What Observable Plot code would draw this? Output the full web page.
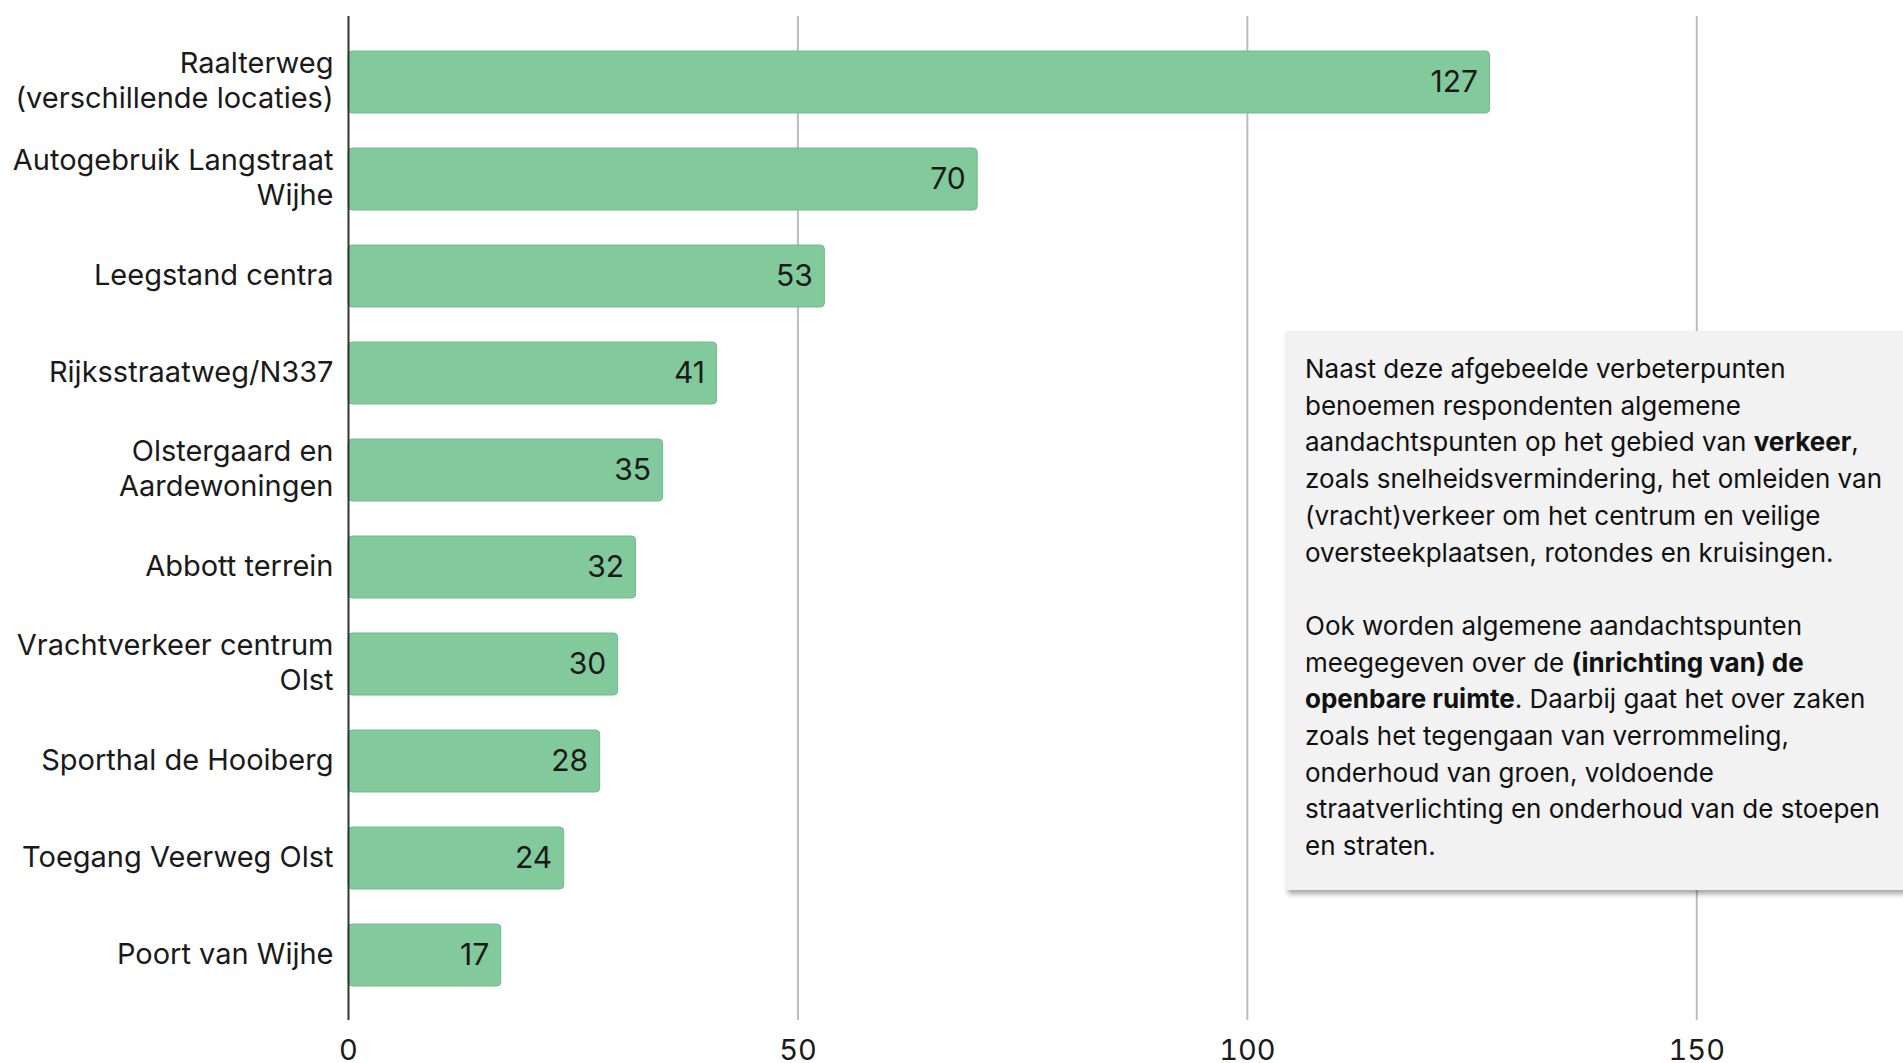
<!DOCTYPE html>
<html>
<head>
<meta charset="utf-8">
<script src="https://cdn.jsdelivr.net/npm/d3@7"></script>
<script src="https://cdn.jsdelivr.net/npm/@observablehq/plot@0.6"></script>
<style>
  html, body { margin: 0; padding: 0; background: #fff; overflow: hidden; width: 1903px; height: 1063px; }
  #chart { position: absolute; left: 0; top: 0; }
  #note {
    position: absolute; left: 1285px; top: 331px; width: 640px; height: 559px;
    box-sizing: border-box; padding: 20px 0 0 20px;
    background: #f2f2f2; box-shadow: 3px 4px 5px rgba(0,0,0,0.35);
    font-family: Inter, sans-serif; font-size: 26px; line-height: 36.7px; color: #111;
  }
  #note b { font-weight: 700; }
</style>
</head>
<body>
<div id="chart"></div>
<div id="note">Naast deze afgebeelde verbeterpunten<br>benoemen respondenten algemene<br>aandachtspunten op het gebied van <b>verkeer</b>,<br>zoals snelheidsvermindering, het omleiden van<br>(vracht)verkeer om het centrum en veilige<br>oversteekplaatsen, rotondes en kruisingen.<br><br>Ook worden algemene aandachtspunten<br>meegegeven over de <b>(inrichting van) de</b><br><b>openbare ruimte</b>. Daarbij gaat het over zaken<br>zoals het tegengaan van verrommeling,<br>onderhoud van groen, voldoende<br>straatverlichting en onderhoud van de stoepen<br>en straten.</div>
<script>
const categories = [
  "Raalterweg\n(verschillende locaties)",
  "Autogebruik Langstraat\nWijhe",
  "Leegstand centra",
  "Rijksstraatweg/N337",
  "Olstergaard en\nAardewoningen",
  "Abbott terrein",
  "Vrachtverkeer centrum\nOlst",
  "Sporthal de Hooiberg",
  "Toegang Veerweg Olst",
  "Poort van Wijhe"
];
const values = [127, 70, 53, 41, 35, 32, 30, 28, 24, 17];
const xTicks = [0, 50, 100, 150];

const data = categories.map((c, i) => ({label: c, value: values[i]}));

const chart = Plot.plot({
  width: 1903,
  height: 1063,
  marginLeft: 348,
  marginRight: 0,
  marginTop: 16,
  marginBottom: 43,
  style: {fontFamily: "Inter, sans-serif", fontSize: "29px", color: "#222", background: "white"},
  x: {domain: [0, 173], axis: null},
  y: {domain: categories, paddingInner: 0.36, paddingOuter: 0.18, insetTop: 17, insetBottom: 16, axis: null},
  marks: [
    Plot.gridX(xTicks.slice(1), {stroke: "#bdbdbd", strokeOpacity: 1, strokeWidth: 2}),
    Plot.barX(data, {x: "value", y: "label", fill: "#82c99c", stroke: "#76b98f", strokeWidth: 1, rx: 4}),
    Plot.ruleX([0], {stroke: "#333", strokeWidth: 2}),
    Plot.text(data, {x: "value", y: "label", text: d => String(d.value), textAnchor: "end", dx: -12, fontSize: 30, fill: "#1a1a1a"}),
    Plot.axisY({tickSize: 0, tickPadding: 15, fontSize: 29, lineHeight: 1.2, dy: -3, label: null, fill: "#1a1a1a"}),
    Plot.axisX({ticks: xTicks, tickSize: 0, tickPadding: 19, fontSize: 29, label: null, fill: "#1a1a1a"})
  ]
});
document.getElementById("chart").appendChild(chart);
</script>
</body>
</html>
